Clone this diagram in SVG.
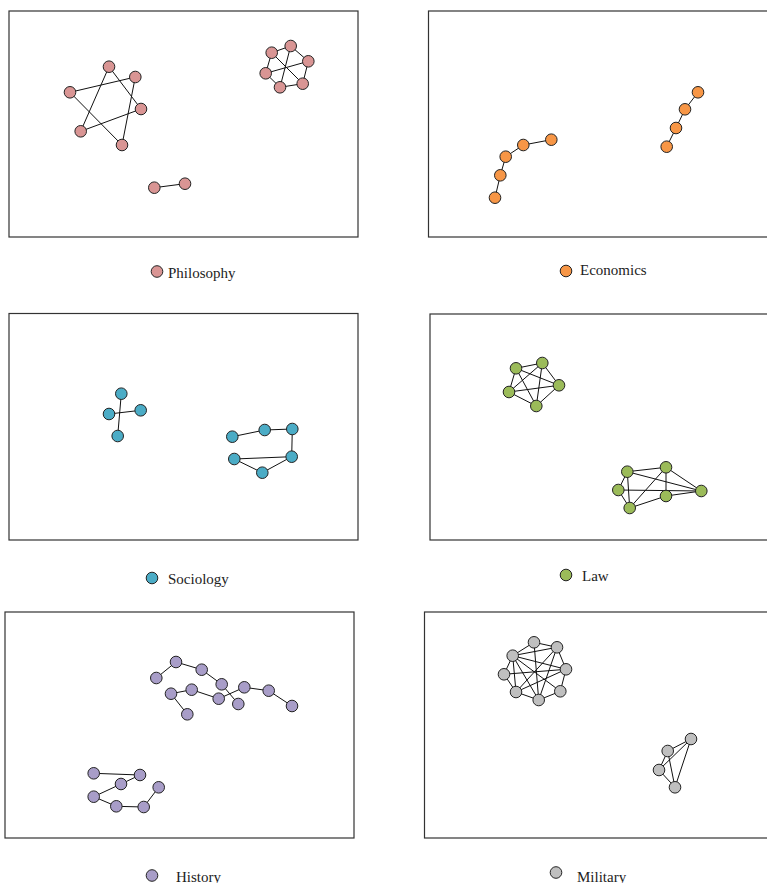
<svg xmlns="http://www.w3.org/2000/svg" width="767" height="883" viewBox="0 0 767 883">
<style>
.frame{fill:none;stroke:#333;stroke-width:1.2}
.e line{stroke:#111;stroke-width:1}
circle{stroke:#222;stroke-width:1}
.ph{fill:#D99594}.ec{fill:#F79646}.so{fill:#4BACC6}.la{fill:#9BBB59}.hi{fill:#A89DC8}.mi{fill:#BFBFBF}
text{font-family:"Liberation Serif","Times New Roman",serif;font-size:15px;fill:#222}
</style>
<rect width="767" height="883" fill="#fff"/>
<!-- frames -->
<g id="frames">
<rect class="frame" x="9" y="11" width="349" height="226"/>
<rect class="frame" x="428.5" y="11" width="350" height="226"/>
<rect class="frame" x="9" y="313.5" width="349" height="226.5"/>
<rect class="frame" x="430" y="314" width="350" height="226"/>
<rect class="frame" x="5" y="612" width="349" height="226"/>
<rect class="frame" x="424.5" y="612" width="350" height="226"/>
</g>
<!-- connectors -->
<g id="connectors" class="e">
<!-- Philosophy left -->
<line x1="109" y1="66.7" x2="80.7" y2="131.3"/>
<line x1="109" y1="66.7" x2="141" y2="109"/>
<line x1="80.7" y1="131.3" x2="141" y2="109"/>
<line x1="70" y1="92.3" x2="135.3" y2="77"/>
<line x1="70" y1="92.3" x2="122" y2="145"/>
<line x1="135.3" y1="77" x2="122" y2="145"/>
<!-- Philosophy right -->
<line x1="271.7" y1="52.7" x2="290.7" y2="46"/>
<line x1="290.7" y1="46" x2="308.3" y2="61.3"/>
<line x1="308.3" y1="61.3" x2="302.7" y2="83.7"/>
<line x1="302.7" y1="83.7" x2="280" y2="87.3"/>
<line x1="280" y1="87.3" x2="265.7" y2="73.3"/>
<line x1="265.7" y1="73.3" x2="271.7" y2="52.7"/>
<line x1="271.7" y1="52.7" x2="302.7" y2="83.7"/>
<line x1="290.7" y1="46" x2="280" y2="87.3"/>
<line x1="265.7" y1="73.3" x2="308.3" y2="61.3"/>
<line x1="154.3" y1="187.7" x2="185" y2="183.7"/>
<!-- Economics -->
<line x1="495" y1="197.7" x2="500.3" y2="175.3"/>
<line x1="500.3" y1="175.3" x2="505.7" y2="156.7"/>
<line x1="505.7" y1="156.7" x2="523.3" y2="145"/>
<line x1="523.3" y1="145" x2="551.3" y2="139.7"/>
<line x1="666.7" y1="146.7" x2="676" y2="128"/>
<line x1="676" y1="128" x2="685" y2="109.3"/>
<line x1="685" y1="109.3" x2="698" y2="92.3"/>
<!-- Sociology -->
<line x1="121.3" y1="393.7" x2="117.7" y2="436"/>
<line x1="109" y1="414" x2="140.7" y2="410.3"/>
<line x1="232.3" y1="436.7" x2="264.7" y2="430"/>
<line x1="264.7" y1="430" x2="292.3" y2="429"/>
<line x1="292.3" y1="429" x2="291.7" y2="456.7"/>
<line x1="291.7" y1="456.7" x2="234.3" y2="459"/>
<line x1="234.3" y1="459" x2="262.3" y2="472.7"/>
<line x1="262.3" y1="472.7" x2="291.7" y2="456.7"/>
<!-- Law upper (K5) -->
<line x1="516" y1="368.3" x2="542.3" y2="363"/>
<line x1="516" y1="368.3" x2="559" y2="385.3"/>
<line x1="516" y1="368.3" x2="509" y2="392"/>
<line x1="516" y1="368.3" x2="536.3" y2="406"/>
<line x1="542.3" y1="363" x2="559" y2="385.3"/>
<line x1="542.3" y1="363" x2="509" y2="392"/>
<line x1="542.3" y1="363" x2="536.3" y2="406"/>
<line x1="559" y1="385.3" x2="509" y2="392"/>
<line x1="559" y1="385.3" x2="536.3" y2="406"/>
<line x1="509" y1="392" x2="536.3" y2="406"/>
<!-- Law lower -->
<line x1="627.3" y1="471.7" x2="666" y2="467.3"/>
<line x1="627.3" y1="471.7" x2="701.3" y2="491"/>
<line x1="627.3" y1="471.7" x2="618.3" y2="490"/>
<line x1="627.3" y1="471.7" x2="629.7" y2="508"/>
<line x1="666" y1="467.3" x2="629.7" y2="508"/>
<line x1="666" y1="467.3" x2="666" y2="496"/>
<line x1="666" y1="467.3" x2="701.3" y2="491"/>
<line x1="618.3" y1="490" x2="701.3" y2="491"/>
<line x1="618.3" y1="490" x2="629.7" y2="508"/>
<line x1="629.7" y1="508" x2="666" y2="496"/>
<line x1="666" y1="496" x2="701.3" y2="491"/>
<!-- History upper -->
<line x1="156.3" y1="678" x2="176" y2="662"/>
<line x1="176" y1="662" x2="201.7" y2="669.7"/>
<line x1="201.7" y1="669.7" x2="221.7" y2="684.3"/>
<line x1="221.7" y1="684.3" x2="238.3" y2="704"/>
<line x1="171" y1="693.7" x2="191.7" y2="689.7"/>
<line x1="191.7" y1="689.7" x2="218.7" y2="698.7"/>
<line x1="218.7" y1="698.7" x2="244.3" y2="687.3"/>
<line x1="244.3" y1="687.3" x2="268.7" y2="690.7"/>
<line x1="268.7" y1="690.7" x2="292" y2="706"/>
<line x1="171" y1="693.7" x2="187.3" y2="714.3"/>
<!-- History lower -->
<line x1="93.7" y1="773.3" x2="140" y2="775"/>
<line x1="140" y1="775" x2="121" y2="784"/>
<line x1="121" y1="784" x2="93.7" y2="796.7"/>
<line x1="93.7" y1="796.7" x2="116.3" y2="806.3"/>
<line x1="116.3" y1="806.3" x2="143.7" y2="807"/>
<line x1="143.7" y1="807" x2="158.7" y2="787.3"/>
<!-- Military big -->
<line x1="534" y1="642.3" x2="557" y2="647.3"/>
<line x1="557" y1="647.3" x2="566" y2="669.3"/>
<line x1="566" y1="669.3" x2="560.3" y2="691.3"/>
<line x1="560.3" y1="691.3" x2="538.7" y2="700"/>
<line x1="538.7" y1="700" x2="516" y2="692"/>
<line x1="516" y1="692" x2="504" y2="674.3"/>
<line x1="504" y1="674.3" x2="512.7" y2="655.7"/>
<line x1="512.7" y1="655.7" x2="534" y2="642.3"/>
<line x1="512.7" y1="655.7" x2="557" y2="647.3"/>
<line x1="512.7" y1="655.7" x2="566" y2="669.3"/>
<line x1="512.7" y1="655.7" x2="560.3" y2="691.3"/>
<line x1="512.7" y1="655.7" x2="538.7" y2="700"/>
<line x1="512.7" y1="655.7" x2="516" y2="692"/>
<line x1="534" y1="642.3" x2="538.7" y2="700"/>
<line x1="557" y1="647.3" x2="516" y2="692"/>
<line x1="557" y1="647.3" x2="538.7" y2="700"/>
<line x1="566" y1="669.3" x2="504" y2="674.3"/>
<line x1="566" y1="669.3" x2="516" y2="692"/>
<!-- Military small -->
<line x1="691" y1="739" x2="667.7" y2="751"/>
<line x1="691" y1="739" x2="659" y2="770"/>
<line x1="691" y1="739" x2="675" y2="787.3"/>
<line x1="667.7" y1="751" x2="659" y2="770"/>
<line x1="667.7" y1="751" x2="675" y2="787.3"/>
<line x1="659" y1="770" x2="675" y2="787.3"/>
</g>
<!-- Philosophy -->
<g id="philosophy">
<circle class="ph" cx="109" cy="66.7" r="5.8"/><circle class="ph" cx="135.3" cy="77" r="5.8"/>
<circle class="ph" cx="70" cy="92.3" r="5.8"/><circle class="ph" cx="141" cy="109" r="5.8"/>
<circle class="ph" cx="80.7" cy="131.3" r="5.8"/><circle class="ph" cx="122" cy="145" r="5.8"/>
<circle class="ph" cx="271.7" cy="52.7" r="5.8"/><circle class="ph" cx="290.7" cy="46" r="5.8"/>
<circle class="ph" cx="308.3" cy="61.3" r="5.8"/><circle class="ph" cx="265.7" cy="73.3" r="5.8"/>
<circle class="ph" cx="280" cy="87.3" r="5.8"/><circle class="ph" cx="302.7" cy="83.7" r="5.8"/>
<circle class="ph" cx="154.3" cy="187.7" r="5.8"/><circle class="ph" cx="185" cy="183.7" r="5.8"/>
<circle class="ph" cx="157" cy="271.5" r="5.8"/>
<text x="168" y="278">Philosophy</text>
</g>
<!-- Economics -->
<g id="economics">
<circle class="ec" cx="495" cy="197.7" r="5.8"/><circle class="ec" cx="500.3" cy="175.3" r="5.8"/>
<circle class="ec" cx="505.7" cy="156.7" r="5.8"/><circle class="ec" cx="523.3" cy="145" r="5.8"/>
<circle class="ec" cx="551.3" cy="139.7" r="5.8"/>
<circle class="ec" cx="666.7" cy="146.7" r="5.8"/><circle class="ec" cx="676" cy="128" r="5.8"/>
<circle class="ec" cx="685" cy="109.3" r="5.8"/><circle class="ec" cx="698" cy="92.3" r="5.8"/>
<circle class="ec" cx="566" cy="271" r="5.8"/>
<text x="580" y="275">Economics</text>
</g>
<!-- Sociology -->
<g id="sociology">
<circle class="so" cx="121.3" cy="393.7" r="5.8"/><circle class="so" cx="140.7" cy="410.3" r="5.8"/>
<circle class="so" cx="109" cy="414" r="5.8"/><circle class="so" cx="117.7" cy="436" r="5.8"/>
<circle class="so" cx="232.3" cy="436.7" r="5.8"/><circle class="so" cx="264.7" cy="430" r="5.8"/>
<circle class="so" cx="292.3" cy="429" r="5.8"/><circle class="so" cx="234.3" cy="459" r="5.8"/>
<circle class="so" cx="291.7" cy="456.7" r="5.8"/><circle class="so" cx="262.3" cy="472.7" r="5.8"/>
<circle class="so" cx="152" cy="578" r="5.8"/>
<text x="168" y="584">Sociology</text>
</g>
<!-- Law -->
<g id="law">
<circle class="la" cx="516" cy="368.3" r="5.8"/><circle class="la" cx="542.3" cy="363" r="5.8"/>
<circle class="la" cx="559" cy="385.3" r="5.8"/><circle class="la" cx="509" cy="392" r="5.8"/>
<circle class="la" cx="536.3" cy="406" r="5.8"/>
<circle class="la" cx="627.3" cy="471.7" r="5.8"/><circle class="la" cx="666" cy="467.3" r="5.8"/>
<circle class="la" cx="618.3" cy="490" r="5.8"/><circle class="la" cx="666" cy="496" r="5.8"/>
<circle class="la" cx="701.3" cy="491" r="5.8"/><circle class="la" cx="629.7" cy="508" r="5.8"/>
<circle class="la" cx="566" cy="575" r="5.8"/>
<text x="582" y="581">Law</text>
</g>
<!-- History -->
<g id="history">
<circle class="hi" cx="156.3" cy="678" r="5.8"/><circle class="hi" cx="176" cy="662" r="5.8"/>
<circle class="hi" cx="201.7" cy="669.7" r="5.8"/><circle class="hi" cx="221.7" cy="684.3" r="5.8"/>
<circle class="hi" cx="238.3" cy="704" r="5.8"/><circle class="hi" cx="171" cy="693.7" r="5.8"/>
<circle class="hi" cx="191.7" cy="689.7" r="5.8"/><circle class="hi" cx="218.7" cy="698.7" r="5.8"/>
<circle class="hi" cx="244.3" cy="687.3" r="5.8"/><circle class="hi" cx="268.7" cy="690.7" r="5.8"/>
<circle class="hi" cx="292" cy="706" r="5.8"/><circle class="hi" cx="187.3" cy="714.3" r="5.8"/>
<circle class="hi" cx="93.7" cy="773.3" r="5.8"/><circle class="hi" cx="140" cy="775" r="5.8"/>
<circle class="hi" cx="121" cy="784" r="5.8"/><circle class="hi" cx="158.7" cy="787.3" r="5.8"/>
<circle class="hi" cx="93.7" cy="796.7" r="5.8"/><circle class="hi" cx="116.3" cy="806.3" r="5.8"/>
<circle class="hi" cx="143.7" cy="807" r="5.8"/>
<circle class="hi" cx="152" cy="875.5" r="5.8"/>
<text x="176" y="882">History</text>
</g>
<!-- Military -->
<g id="military">
<circle class="mi" cx="534" cy="642.3" r="5.8"/><circle class="mi" cx="557" cy="647.3" r="5.8"/>
<circle class="mi" cx="512.7" cy="655.7" r="5.8"/><circle class="mi" cx="566" cy="669.3" r="5.8"/>
<circle class="mi" cx="504" cy="674.3" r="5.8"/><circle class="mi" cx="516" cy="692" r="5.8"/>
<circle class="mi" cx="560.3" cy="691.3" r="5.8"/><circle class="mi" cx="538.7" cy="700" r="5.8"/>
<circle class="mi" cx="691" cy="739" r="5.8"/><circle class="mi" cx="667.7" cy="751" r="5.8"/>
<circle class="mi" cx="659" cy="770" r="5.8"/><circle class="mi" cx="675" cy="787.3" r="5.8"/>
<circle class="mi" cx="556" cy="872.5" r="5.8"/>
<text x="577" y="882">Military</text>
</g>
</svg>
